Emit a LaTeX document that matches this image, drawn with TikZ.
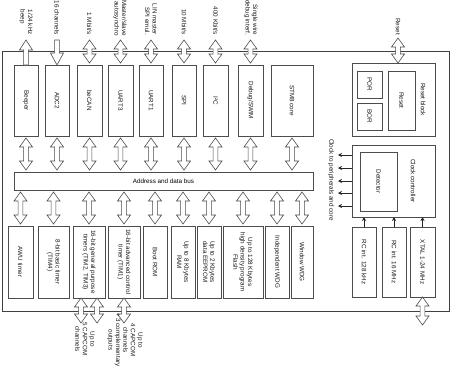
\documentclass[tikz,border=0pt]{standalone}
\usepackage{fontspec}
\setmainfont{Liberation Sans}
\usetikzlibrary{calc,arrows.meta}
\newcommand\lblf{\fontsize{6.3}{7.4}\selectfont}
\tikzset{
  bx/.style={draw=black!70, line width=0.6pt, fill=white, inner sep=0pt, outer sep=0pt},
  txt/.style={rotate=-90, font=\lblf, align=center, inner sep=0pt, text=black!90},
  fat/.style={draw=black!70, line width=0.6pt, fill=white, line join=miter},
  sig/.style={draw=black!85, line width=0.6pt, -{Stealth[length=4pt,width=4pt]}}
}
% name x1 y1 x2 y2 text
\newcommand\mkbox[6]{%
  \node[bx, minimum width={(#4-#2)*1pt}, minimum height={(#5-#3)*1pt}] (#1) at ({(#2+#4)/2},{(#3+#5)/2}) {};
  \node[txt] (#1-t) at (#1.center) {#6};}
% hollow double arrow, #1 upper end, #2 lower end
\newcommand\dbl[2]{\path[fat] let \p1=(#1), \p2=(#2) in
  (\x1,\y1) -- ({\x1+6.5pt},{\y1-9pt}) -- ({\x1+2.4pt},{\y1-9pt}) -- ({\x1+2.4pt},{\y2+9pt})
  -- ({\x1+6.5pt},{\y2+9pt}) -- (\x1,\y2) -- ({\x1-6.5pt},{\y2+9pt}) -- ({\x1-2.4pt},{\y2+9pt})
  -- ({\x1-2.4pt},{\y1-9pt}) -- ({\x1-6.5pt},{\y1-9pt}) -- cycle;}
% hollow single arrow pointing up: #1 tip, #2 base
\newcommand\uparr[2]{\path[fat] let \p1=(#1), \p2=(#2) in
  (\x1,\y1) -- ({\x1+6.5pt},{\y1-10pt}) -- ({\x1+2.4pt},{\y1-10pt}) -- ({\x1+2.4pt},\y2)
  -- ({\x1-2.4pt},\y2) -- ({\x1-2.4pt},{\y1-10pt}) -- ({\x1-6.5pt},{\y1-10pt}) -- cycle;}
% hollow single arrow pointing down: #1 tip, #2 base
\newcommand\dnarr[2]{\path[fat] let \p1=(#1), \p2=(#2) in
  (\x1,\y1) -- ({\x1+6.5pt},{\y1+12pt}) -- ({\x1+2.4pt},{\y1+12pt}) -- ({\x1+2.4pt},\y2)
  -- ({\x1-2.4pt},\y2) -- ({\x1-2.4pt},{\y1+12pt}) -- ({\x1-6.5pt},{\y1+12pt}) -- cycle;}
\begin{document}
\begin{tikzpicture}[x=1pt,y=-1pt]
\useasboundingbox (0,0) rectangle (450,370);
% outer frame
\node[bx, line width=0.7pt, draw=black!75, minimum width=447pt, minimum height=260pt] (mcu) at (225.5,181) {};
% top row
\mkbox{beeper}{14}{65}{38}{136}{Beeper}
\mkbox{adc}{45}{65}{69}{136}{ADC2}
\mkbox{becan}{77}{65}{102}{136}{beCAN}
\mkbox{uartc}{108}{65}{133}{136}{UART3}
\mkbox{uarta}{139}{65}{163}{136}{UART1}
\mkbox{spi}{172}{65}{196}{136}{SPI}
\mkbox{iic}{203}{65}{228}{136}{I²C}
\mkbox{swim}{238}{65}{263}{136}{Debug/SWIM}
\mkbox{core}{271}{65}{313}{136}{STM8 core}
% reset block
\mkbox{rstblk}{352}{63}{435}{136}{}
\node[txt] (rstblk-l) at (423,99.5) {Reset block};
\mkbox{por}{357}{71}{382}{98}{POR}
\mkbox{bor}{357}{103}{382}{130}{BOR}
\mkbox{rst}{388}{71}{415}{130}{Reset}
% bus
\node[bx, minimum width=299pt, minimum height=18pt] (bus) at (163.5,181) {};
\node[font=\lblf, inner sep=0pt] (bus-t) at (bus.center) {Address and data bus};
% clock controller
\mkbox{clk}{352}{145}{435}{217}{}
\node[txt] (clk-l) at (413,181) {Clock controller};
\mkbox{det}{360}{152}{397}{211}{Detector}
\node[txt] (clkout-l) at (331,180) {Clock to peripherals and core};
% bottom row
\mkbox{awu}{8}{226}{33}{298}{AWU timer}
\mkbox{timb}{38}{226}{69}{298}{8-bit basic timer\\(TIM4)}
\mkbox{timgp}{73}{226}{105}{298}{16-bit general purpose\\timers (TIM2, TIM3)}
\mkbox{timadv}{108}{226}{140}{298}{16-bit advanced control\\timer (TIM1)}
\mkbox{brom}{143}{226}{167}{298}{Boot ROM}
\mkbox{ram}{171}{226}{195}{298}{Up to 8 Kbytes\\RAM}
\mkbox{eep}{197}{226}{221}{298}{Up to 2 Kbytes\\data EEPROM}
\mkbox{flash}{223}{226}{263}{298}{Up to 128 Kbytes\\high density program\\Flash}
\mkbox{iwdg}{265}{226}{289}{298}{Independent WDG}
\mkbox{wwdg}{291}{226}{313}{298}{Window WDG}
\mkbox{rca}{352}{227}{376}{297}{RC int. 128 kHz}
\mkbox{rcb}{382}{227}{406}{297}{RC int. 16 MHz}
\mkbox{xtal}{410}{227}{435}{297}{XTAL 1-24 MHz}
% external top arrows
\uparr{beeper.north |- 0,40}{beeper.north}
\dnarr{adc.north}{adc.north |- 0,40}
\foreach \nm in {becan,uartc,uarta,spi,iic,swim} {\dbl{\nm.north |- 0,40}{$(\nm.north)+(0,-2)$}}
\coordinate (rstin) at (398,38);
\dbl{rstin}{rstin |- rstblk.north}
% bus arrows
\foreach \nm in {beeper,adc,becan,uartc,uarta,spi,iic,swim,core}
  {\dbl{$(\nm.south)+(0,2)$}{$(\nm.south |- bus.north)+(0,-2)$}}
\foreach \nm in {awu,timb,timgp,timadv,brom,ram,eep,flash,iwdg,wwdg}
  {\dbl{$(\nm.north |- bus.south)+(0,2)$}{$(\nm.north)+(0,-2)$}}
% external bottom arrows
\coordinate (gpa) at (81,323);
\coordinate (gpb) at (97,323);
\coordinate (adv) at (124.5,323);
\coordinate (xin) at (422.5,325);
\dbl{gpa |- timgp.south}{gpa}
\dbl{gpb |- timgp.south}{gpb}
\dbl{timadv.south}{adv}
\dbl{xtal.south}{xin}
% clock signals
\foreach \yy [count=\i] in {155,168,181,193,206}
  {\coordinate (co\i) at (338,\yy); \draw[sig] (clk.west |- co\i) -- (co\i);}
\foreach \nm in {rca,rcb,xtal} {\draw[sig] (\nm.north) -- (\nm.north |- clk.south);}
% external labels
\node[txt, anchor=east, align=left] (l-beep) at (26,35) {1/24 kHz\\beep};
\node[txt, anchor=east, align=right] (l-adc) at (57,35) {16 channels};
\node[txt, anchor=east, align=right] (l-can) at (89.5,35) {1 Mbit/s};
\node[txt, anchor=east, align=right] (l-u3) at (120,36) {Master/slave\\autosynchro};
\node[txt, anchor=east, align=right] (l-u1) at (151,35) {LIN master\\SPI emul.};
\node[txt, anchor=east, align=right] (l-spi) at (184,35) {10 Mbit/s};
\node[txt, anchor=east, align=right] (l-iic) at (215.5,35) {400 Kbit/s};
\node[txt, anchor=east, align=right] (l-swim) at (251,35.5) {Single wire\\debug interf.};
\node[txt, anchor=east] (l-rst) at (398,35) {Reset};
\node[txt] (l-gp) at (85,339) {Up to\\5 CAPCOM\\channels};
\node[txt] (l-adv) at (125,340) {Up to\\4 CAPCOM\\channels\\+ 3 complementary\\outputs};
\end{tikzpicture}
\end{document}
